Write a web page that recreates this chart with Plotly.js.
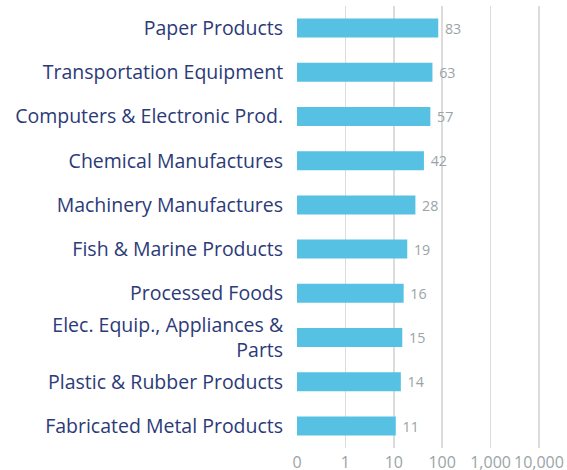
<!DOCTYPE html>
<html>
<head>
<meta charset="utf-8">
<script src="https://cdn.plot.ly/plotly-3.0.1.min.js"></script>
<style>html,body{margin:0;padding:0;background:#fff;}#chart{width:567px;height:470px;}</style>
</head>
<body>
<div id="chart"></div>
<script>
const categories = [
  "Paper Products",
  "Transportation Equipment",
  "Computers & Electronic Prod.",
  "Chemical Manufactures",
  "Machinery Manufactures",
  "Fish & Marine Products",
  "Processed Foods",
  "Elec. Equip., Appliances &<br>Parts",
  "Plastic & Rubber Products",
  "Fabricated Metal Products"
];
const values = [83, 63, 57, 42, 28, 19, 16, 15, 14, 11];
const tickValues = [0.1, 1, 10, 100, 1000, 10000];
const tickLabels = ["0", "1", "10", "100", "1,000", "10,000"];

const trace = {
  type: "bar",
  orientation: "h",
  x: values,
  y: categories,
  text: values.map(v => "\u00a0" + v),
  textposition: "outside",
  cliponaxis: false,
  textfont: {family: "'Open Sans', sans-serif", size: 15, color: "#9aa4a7"},
  marker: {color: "#56c1e3"},
  width: 0.43,
  hoverinfo: "x+y"
};

const layout = {
  width: 567,
  height: 470,
  margin: {l: 297, r: 0, t: 6, b: 22},
  paper_bgcolor: "#ffffff",
  plot_bgcolor: "#ffffff",
  showlegend: false,
  font: {family: "'Open Sans', sans-serif"},
  xaxis: {
    type: "log",
    range: [-1, 4.58],
    tickvals: tickValues,
    ticktext: tickLabels,
    showgrid: true,
    gridcolor: "#dcdcdc",
    gridwidth: 1.5,
    zeroline: false,
    showline: false,
    ticks: "",
    ticklabelstandoff: 3,
    tickfont: {size: 16, color: "#9aa4a7"},
    fixedrange: true
  },
  yaxis: {
    type: "category",
    autorange: "reversed",
    showgrid: false,
    zeroline: false,
    showline: false,
    ticks: "outside",
    ticklen: 9,
    tickcolor: "rgba(0,0,0,0)",
    tickfont: {size: 19.5, color: "#2c3a78"},
    fixedrange: true
  }
};

Plotly.newPlot("chart", [trace], layout, {displayModeBar: false, staticPlot: true});
</script>
</body>
</html>
